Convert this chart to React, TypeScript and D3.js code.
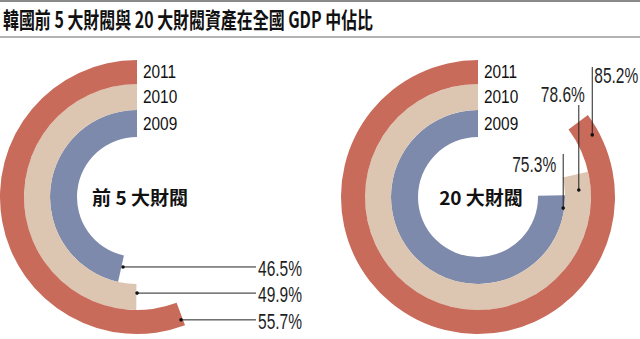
import React from "react";
import * as d3 from "d3";

const chartTitle = "韓國前 5 大財閥與 20 大財閥資產在全國 GDP 中佔比";
const years = ["2009", "2010", "2011"];
const top5Share = [46.5, 49.9, 55.7];
const top20Share = [75.3, 78.6, 85.2];
const groupLabels = ["前 5 大財閥", "20 大財閥"];

const W = 640;
const H = 339;
const colors = ["#7d8aab", "#dcc6b1", "#c96b5a"];
const innerR = [60, 87, 113];
const outerR = [87, 113, 137];
const cy = 197;

// leader dot placement: angular inset (deg) and radial fraction inside ring
const leftDots = [
  { inset: -1.3, frac: 0.42 },
  { inset: -0.4, frac: 0.35 },
  { inset: 0.8, frac: 0.73 },
];
const rightDots = [
  { inset: 8.5, frac: 0.96 },
  { inset: 9, frac: 0.54 },
  { inset: 8.2, frac: 0.71 },
];
// right-chart label layout
const rightLabelLayout = [
  { lineTop: 154, anchor: "end", dx: -7, y: 172 },
  { lineTop: 105, anchor: "end", dx: 6, y: 102 },
  { lineTop: 67, anchor: "start", dx: 2, y: 83 },
];

const angle = d3.scaleLinear().domain([0, 100]).range([0, -2 * Math.PI]);

function pointAt(cx: number, thetaRad: number, r: number) {
  return [cx + r * Math.sin(thetaRad), cy - r * Math.cos(thetaRad)];
}

const PctText = ({ x, y, text, anchor }: any) => (
  <text
    transform={`translate(${x},${y}) scale(0.69,1)`}
    textAnchor={anchor}
    fontFamily="'Liberation Sans', Arial, sans-serif"
    fontSize={22.5}
    fill="#1e1e1e"
  >
    {text}
  </text>
);

function Rings({ cx, values, label, side }: any) {
  const arc = d3.arc<any>();
  return (
    <g>
      {values.map((v: number, i: number) => (
        <path
          key={i}
          transform={`translate(${cx},${cy})`}
          d={
            arc({
              innerRadius: innerR[i],
              outerRadius: outerR[i],
              startAngle: 0,
              endAngle: angle(v),
            }) as string
          }
          fill={colors[i]}
        />
      ))}
      {years.map((y, i) => (
        <text
          key={y}
          transform={`translate(${cx + 6},${cy - (innerR[i] + outerR[i]) / 2 + 6}) scale(0.88,1)`}
          fontFamily="'Liberation Sans', Arial, sans-serif"
          fontSize={17.5}
          fill="#111"
        >
          {y}
        </text>
      ))}
      <text
        x={cx + 3}
        y={205}
        textAnchor="middle"
        fontFamily="'Noto Sans CJK TC', sans-serif"
        fontWeight="bold"
        fontSize={19}
        fill="#111"
      >
        {label}
      </text>
      {values.map((v: number, i: number) => {
        const spec = side === "left" ? leftDots[i] : rightDots[i];
        const th = angle(v) + (spec.inset * Math.PI) / 180;
        const r = innerR[i] + spec.frac * (outerR[i] - innerR[i]);
        const [px, py] = pointAt(cx, th, r);
        if (side === "left") {
          return (
            <g key={i}>
              <line x1={px} y1={py} x2={256} y2={py} stroke="#222" strokeWidth={1} />
              <circle cx={px} cy={py} r={1.8} fill="#111" />
              <PctText x={258} y={py + 9} text={`${v}%`} anchor="start" />
            </g>
          );
        }
        const L = rightLabelLayout[i];
        return (
          <g key={i}>
            <line x1={px} y1={py} x2={px} y2={L.lineTop} stroke="#222" strokeWidth={1} />
            <circle cx={px} cy={py} r={1.8} fill="#111" />
            <PctText x={px + L.dx} y={L.y} text={`${v}%`} anchor={L.anchor} />
          </g>
        );
      })}
    </g>
  );
}

export default function App() {
  return (
    <svg
      width={W}
      height={H}
      viewBox={`0 0 ${W} ${H}`}
      style={{ position: "absolute", left: 0, top: 0, background: "#fff" }}
    >
      <rect width={W} height={H} fill="#fff" />
      <line x1={0} x2={W} y1={1} y2={1} stroke="#8a8a8a" strokeWidth={2} />
      <line x1={0} x2={W} y1={37} y2={37} stroke="#9a9a9a" strokeWidth={1.5} />
      <text
        x={3}
        y={27.5}
        fontFamily="'Noto Sans CJK TC', sans-serif"
        fontWeight="bold"
        fontSize={22}
        textLength={370}
        lengthAdjust="spacingAndGlyphs"
        fill="#111"
      >
        {chartTitle}
      </text>
      <Rings cx={137} values={top5Share} label={groupLabels[0]} side="left" />
      <Rings cx={478} values={top20Share} label={groupLabels[1]} side="right" />
    </svg>
  );
}
